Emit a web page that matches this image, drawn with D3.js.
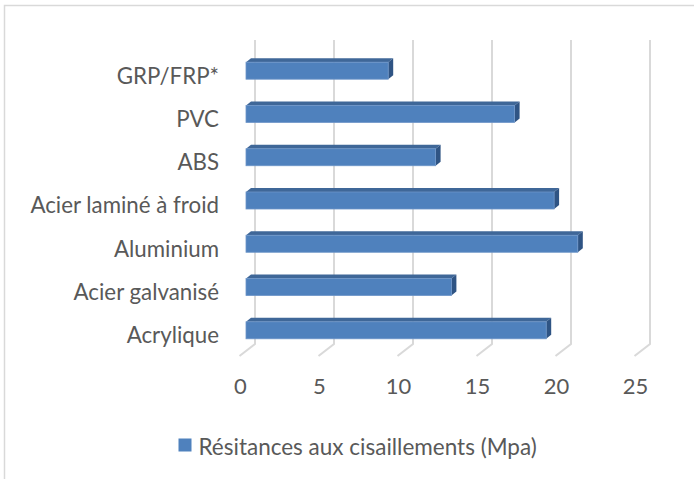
<!DOCTYPE html>
<html>
<head>
<meta charset="utf-8">
<script src="https://cdn.jsdelivr.net/npm/d3@7"></script>
<style>
  body { margin: 0; background: #fff; }
  text { font-family: Lato, "Open Sans", sans-serif; fill: #595959; }
</style>
</head>
<body>
<script>
// categories, top to bottom as in the picture
var categories = [
	"GRP/FRP*",
	"PVC",
	"ABS",
	"Acier laminé à froid",
	"Aluminium",
	"Acier galvanisé",
	"Acrylique"
];

var values = [9, 17, 12, 19.5, 21, 13, 19];

var ticks = [0, 5, 10, 15, 20, 25];

var seriesName = "Résitances aux cisaillements (Mpa)";

var W = 694, H = 479;

var svg = d3.select("body").append("svg")
	.attr("width", W)
	.attr("height", H);

// chart area border
svg.append("rect")
	.attr("x", 4.5).attr("y", 5.5)
	.attr("width", W + 10).attr("height", H + 10)
	.attr("fill", "none")
	.attr("stroke", "#d9d9d9")
	.attr("stroke-width", 1.5);

var x = d3.scaleLinear().domain([0, 25]).range([246, 641]);
var y = d3.scalePoint().domain(categories).range([70.7, 330.3]);

// back wall gridlines + floor diagonals
var backDx = 9, wallTop = 40, wallBottom = 344, floorDx = -6.5, floorY = 356;
var grid = svg.append("g").attr("class", "grid");
grid.selectAll("path").data(ticks).enter().append("path")
	.attr("d", function (d) {
		var bx = x(d) + backDx;
		return "M" + bx + "," + wallTop + "L" + bx + "," + wallBottom +
			"L" + (x(d) + floorDx) + "," + floorY;
	})
	.attr("fill", "none")
	.attr("stroke", "#d9d9d9")
	.attr("stroke-width", 2);

// bars (small 3d boxes)
var bh = 17, dx = 5, dy = 4;
var bars = svg.append("g").attr("class", "bars");
var bar = bars.selectAll("g").data(values).enter().append("g");

bar.append("path") // top face
	.attr("d", function (d, i) {
		var t = y(categories[i]) - bh / 2;
		return "M" + x(0) + "," + t + "L" + (x(0) + dx) + "," + (t - dy) +
			"L" + (x(d) + dx) + "," + (t - dy) + "L" + x(d) + "," + t + "Z";
	})
	.attr("fill", "#3f6798");

bar.append("path") // side face
	.attr("d", function (d, i) {
		var t = y(categories[i]) - bh / 2;
		return "M" + x(d) + "," + t + "L" + (x(d) + dx) + "," + (t - dy) +
			"L" + (x(d) + dx) + "," + (t + bh - dy) + "L" + x(d) + "," + (t + bh) + "Z";
	})
	.attr("fill", "#2f5484");

bar.append("rect") // front face
	.attr("x", x(0))
	.attr("y", function (d, i) { return y(categories[i]) - bh / 2; })
	.attr("width", function (d) { return x(d) - x(0); })
	.attr("height", bh)
	.attr("fill", "#4f81bd")
	.attr("stroke", "#6d95c8")
	.attr("stroke-width", 0.8);

// category labels
svg.append("g").selectAll("text").data(categories).enter().append("text")
	.attr("x", 219)
	.attr("y", function (d) { return y(d) + 12.8; })
	.attr("text-anchor", "end")
	.attr("font-size", 22.3)
	.text(function (d) { return d; });

// value axis labels
svg.append("g").selectAll("text").data(ticks).enter().append("text")
	.attr("x", function (d) { return x(d) + floorDx + 1; })
	.attr("y", 394)
	.attr("text-anchor", "middle")
	.attr("font-size", 22)
	.text(function (d) { return d; });

// legend
var legend = svg.append("g").attr("transform", "translate(178.5,438.5)");
legend.append("rect")
	.attr("width", 13).attr("height", 13)
	.attr("fill", "#4f81bd");
legend.append("text")
	.attr("x", 20).attr("y", 16.5)
	.attr("font-size", 22.5)
	.text(seriesName);
</script>
</body>
</html>
